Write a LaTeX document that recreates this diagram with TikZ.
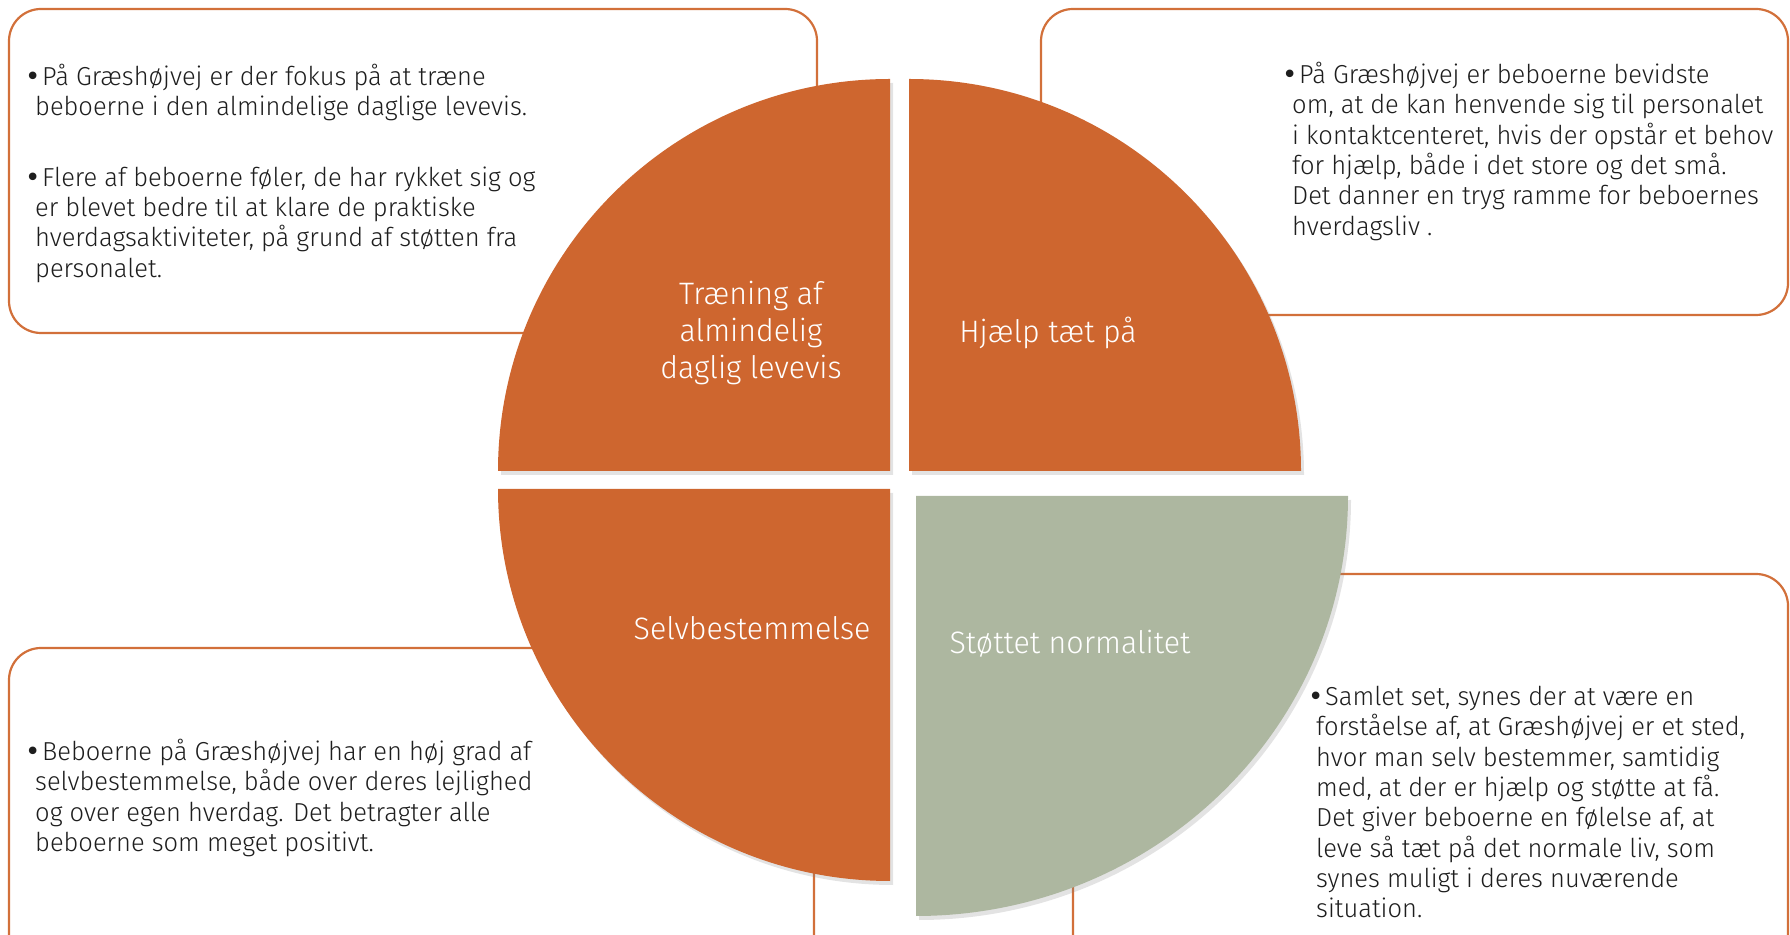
\documentclass[tikz,border=0pt]{standalone}
\usepackage{fontspec}
\setmainfont{Fira Sans Light}[FakeStretch=0.98]
\newfontfamily\bulfont{DejaVu Sans}
\newcommand{\bul}{{\bulfont •}}
\usetikzlibrary{shadows}
\definecolor{pieor}{HTML}{CE662F}
\definecolor{piegr}{HTML}{ADB7A0}
\definecolor{boxor}{HTML}{D2703A}
\definecolor{txt}{HTML}{1E1E1E}
\begin{document}
\begin{tikzpicture}[x=1pt,y=1pt,
  infobox/.style={draw=boxor, line width=2.2pt, rounded corners=32pt, fill=white},
  sector/.style={draw=none, drop shadow={opacity=0.22, shadow xshift=3pt, shadow yshift=-4pt}},
  bodytext/.style={anchor=north west, inner sep=0pt, align=left, text=txt, font=\fontsize{26}{30.3}\selectfont},
  pielabel/.style={anchor=center, inner sep=0pt, align=center, text=white, font=\fontsize{31}{37}\selectfont}]
\useasboundingbox (0,0) rectangle (1790,934);
% info boxes
\path[infobox] (9,925) rectangle (817,601);
\path[infobox] (1041,925) rectangle (1788,619);
\path[infobox] (9,286) rectangle (814,-40);
\path[infobox] (1073,360) rectangle (1788,-40);
% sectors
\path[sector, fill=pieor] (890,463) -- (498,463) arc[start angle=180, end angle=90, radius=392] -- cycle;
\path[sector, fill=pieor] (909,463) -- (909,855) arc[start angle=90, end angle=0, radius=392] -- cycle;
\path[sector, fill=pieor] (890,445) -- (890,53) arc[start angle=270, end angle=180, radius=392] -- cycle;
\path[sector, fill=piegr] (916,438) -- (1348,438) arc[start angle=0, end angle=-90, x radius=432, y radius=420] -- cycle;
% texts
\node[bodytext] (t1) at (35,870) {\hspace*{-10pt}\makebox[17pt][l]{\bul}På Græshøjvej er der fokus på at træne\\
beboerne i den almindelige daglige levevis.\\[40pt]
\hspace*{-10pt}\makebox[17pt][l]{\bul}Flere af beboerne føler, de har rykket sig og\\
er blevet bedre til at klare de praktiske\\
hverdagsaktiviteter, på grund af støtten fra\\
personalet.};
\node[bodytext] (t2) at (1292,872) {\hspace*{-10pt}\makebox[17pt][l]{\bul}På Græshøjvej er beboerne bevidste\\
om, at de kan henvende sig til personalet\\
i kontaktcenteret, hvis der opstår et behov\\
for hjælp, både i det store og det små.\\
Det danner en tryg ramme for beboernes\\
hverdagsliv .};
\node[bodytext] (t3) at (35,195) {\hspace*{-10pt}\makebox[17pt][l]{\bul}Beboerne på Græshøjvej har en høj grad af\\
selvbestemmelse, både over deres lejlighed\\
og over egen hverdag. Det betragter alle\\
beboerne som meget positivt.};
\node[bodytext] (t4) at (1316,248) {\hspace*{-8pt}\makebox[17pt][l]{\bul}Samlet set, synes der at være en\\
forståelse af, at Græshøjvej er et sted,\\
hvor man selv bestemmer, samtidig\\
med, at der er hjælp og støtte at få.\\
Det giver beboerne en følelse af, at\\
leve så tæt på det normale liv, som\\
synes muligt i deres nuværende\\
situation.};
\node[pielabel] (l1) at (751,601) {Træning af\\almindelig\\daglig levevis};
\node[pielabel] (l2) at (1048,601) {Hjælp tæt på};
\node[pielabel] (l3) at (752,306) {Selvbestemmelse};
\node[pielabel] (l4) at (1070,290) {Støttet normalitet};
\end{tikzpicture}
\end{document}
